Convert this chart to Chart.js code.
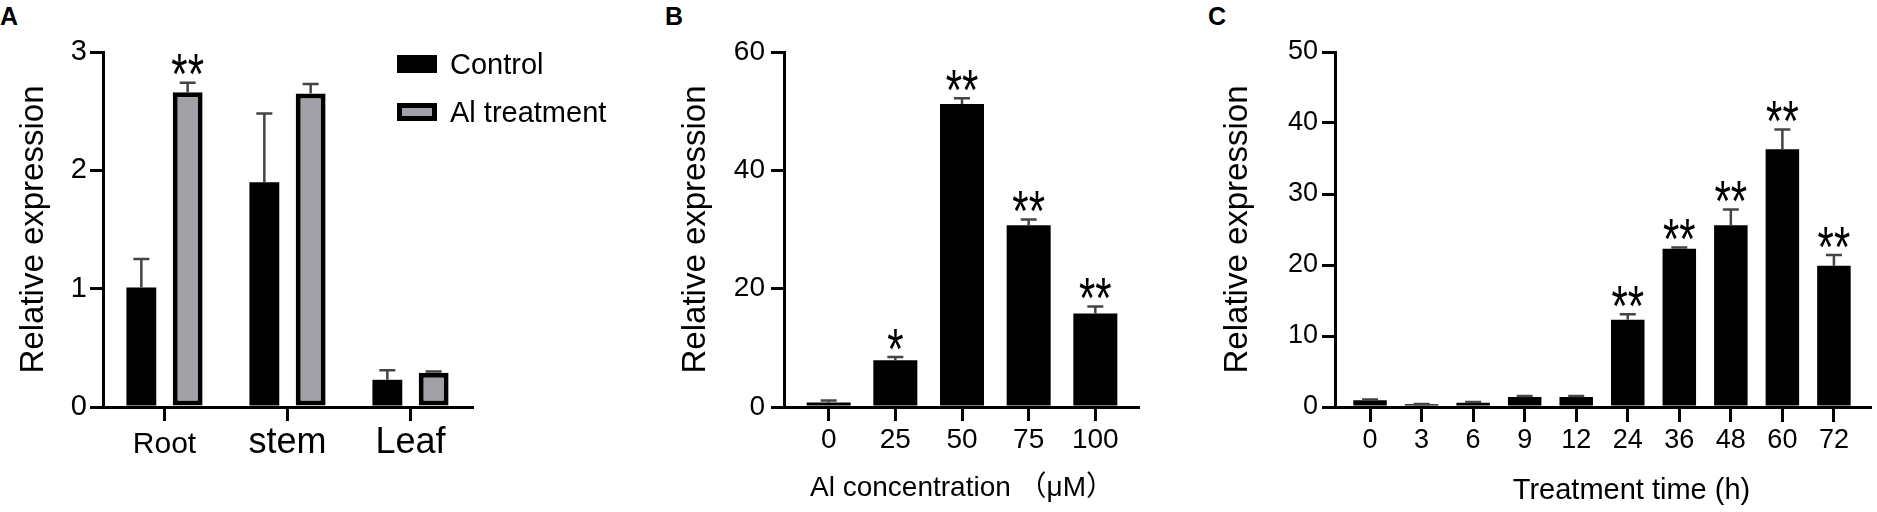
<!DOCTYPE html>
<html>
<head>
<meta charset="utf-8">
<script src="https://cdn.jsdelivr.net/npm/chart.js@4.4.0/dist/chart.umd.min.js"></script>
<style>
  html, body { margin: 0; padding: 0; background: #fff; }
  body { width: 1877px; height: 512px; position: relative; overflow: hidden; font-family: 'Liberation Sans', Arial, sans-serif; color: #000; }
  .panel { position: absolute; top: 0; height: 512px; }
  .panel canvas { display: block; }
  .panelLetter { position: absolute; top: 4px; font-weight: bold; font-size: 25px; line-height: 1; }
  .chartLegend { position: absolute; left: 397px; top: 55px; }
  .chartLegendItem { display: flex; align-items: center; height: 18px; margin-bottom: 30px; }
  .chartLegendColor { width: 40px; height: 18px; box-sizing: border-box; margin-right: 13px; }
  .chartLegendLabel { font-size: 29px; line-height: 18px; white-space: nowrap; }
</style>
</head>
<body>
<div class="panelLetter" style="left:0px">A</div>
<div class="panelLetter" style="left:665px">B</div>
<div class="panelLetter" style="left:1208px">C</div>

<div class="panel" style="left:0px"><canvas id="chartA" width="480" height="512"></canvas></div>
<div class="panel" style="left:620px"><canvas id="chartB" width="520" height="512"></canvas></div>
<div class="panel" style="left:1140px"><canvas id="chartC" width="737" height="512"></canvas></div>

<div class="chartLegend">
  <div class="chartLegendItem">
    <div class="chartLegendColor" style="background:#000"></div>
    <div class="chartLegendLabel">Control</div>
  </div>
  <div class="chartLegendItem">
    <div class="chartLegendColor" style="background:#a0a0a6; border:5px solid #000"></div>
    <div class="chartLegendLabel">Al treatment</div>
  </div>
</div>

<script>
const FONT = "'Liberation Sans', Arial, 'Noto Sans CJK SC', sans-serif";

// A - tissues
const tissues = ['Root', 'stem', 'Leaf'];
const controlA = [1.01, 1.90, 0.23];
const controlErrA = [0.24, 0.58, 0.08];
const alA = [2.66, 2.65, 0.29];
const alErrA = [0.08, 0.08, 0.01];
const starsControlA = ['', '', ''];
const starsAlA = ['**', '', ''];

// B - Al concentration
const concLabels = ['0', '25', '50', '75', '100'];
const valuesB = [0.75, 7.9, 51.2, 30.7, 15.8];
const errB = [0.35, 0.55, 1.0, 1.0, 1.2];
const starsB = ['', '*', '**', '**', '**'];

// C - treatment time
const timeLabels = ['0', '3', '6', '9', '12', '24', '36', '48', '60', '72'];
const valuesC = [0.95, 0.38, 0.6, 1.4, 1.4, 12.3, 22.3, 25.6, 36.3, 19.9];
const errC = [0.1, 0.05, 0.1, 0.15, 0.15, 0.75, 0.15, 2.2, 2.8, 1.5];
const starsC = ['', '', '', '', '', '**', '**', '**', '**', '**'];

Chart.defaults.font.family = FONT;
Chart.defaults.color = '#000';

// error bars (upper half only) + significance stars
const errorBars = {
  id: 'errorBars',
  afterDatasetsDraw(chart) {
    const ctx = chart.ctx;
    const y = chart.scales.y;
    chart.data.datasets.forEach((ds, di) => {
      if (!ds.errors) return;
      const meta = chart.getDatasetMeta(di);
      meta.data.forEach((bar, i) => {
        const v = meta.controller.getParsed(i).y;
        const top = y.getPixelForValue(v + ds.errors[i]);
        const base = y.getPixelForValue(v);
        ctx.save();
        ctx.strokeStyle = '#444';
        ctx.lineWidth = 2.5;
        ctx.beginPath();
        ctx.moveTo(bar.x, base);
        ctx.lineTo(bar.x, top);
        ctx.moveTo(bar.x - 8, top);
        ctx.lineTo(bar.x + 8, top);
        ctx.stroke();
        ctx.restore();

        const s = ds.stars ? ds.stars[i] : '';
        if (!s) return;
        ctx.save();
        ctx.font = '42px ' + FONT;
        ctx.fillStyle = '#000';
        ctx.textAlign = 'center';
        ctx.textBaseline = 'alphabetic';
        const m = ctx.measureText(s);
        const sy = 1.35;
        const baseY = top - 6 - m.actualBoundingBoxDescent * sy;
        ctx.translate(bar.x, baseY);
        ctx.scale(1, sy);
        ctx.fillText(s, 0, 0);
        ctx.restore();
      });
    });
  }
};

function yAxis(max, step, tickSize, labelPad, width, titlePad) {
  return {
    min: 0,
    max: max,
    ticks: { stepSize: step, font: { size: tickSize }, padding: labelPad },
    grid: { drawOnChartArea: false, drawTicks: true, tickLength: 13, tickWidth: 3, lineWidth: 3, color: '#000' },
    border: { display: true, width: 3, color: '#000' },
    title: { display: true, text: 'Relative expression', font: { size: 33 }, padding: { top: titlePad, bottom: 0 } },
    afterFit(scale) { scale.width = width; }
  };
}

function xLinear(labels, lo, hi, tickSize, tickLen, pad, title, titleSize, titlePadBottom) {
  return {
    type: 'linear',
    min: lo,
    max: hi,
    offset: false,
    afterBuildTicks(scale) { scale.ticks = labels.map((_, i) => ({ value: i })); },
    ticks: {
      font: { size: tickSize },
      padding: pad,
      maxRotation: 0,
      autoSkip: false,
      callback: (value) => labels[value]
    },
    grid: { offset: false, drawOnChartArea: false, drawTicks: true, tickLength: tickLen, tickWidth: 3, lineWidth: 3, color: '#000' },
    border: { display: true, width: 3, color: '#000' },
    title: { display: true, text: title, font: { size: titleSize }, padding: { top: 0, bottom: titlePadBottom } },
    afterFit(scale) { scale.height = 105; }
  };
}

const common = {
  responsive: false,
  animation: false,
  events: [],
  plugins: { legend: { display: false }, tooltip: { enabled: false } }
};

// Panel A
new Chart(document.getElementById('chartA'), {
  type: 'bar',
  data: {
    labels: tissues,
    datasets: [
      {
        label: 'Control',
        data: controlA,
        errors: controlErrA,
        stars: starsControlA,
        backgroundColor: '#000',
        borderWidth: 0,
        categoryPercentage: 0.753,
        barPercentage: 0.645
      },
      {
        label: 'Al treatment',
        data: alA,
        errors: alErrA,
        stars: starsAlA,
        backgroundColor: '#a0a0a6',
        borderColor: '#000',
        borderWidth: 5,
        borderSkipped: false,
        categoryPercentage: 0.753,
        barPercentage: 0.645
      }
    ]
  },
  options: {
    ...common,
    layout: { padding: { top: 52, right: 8, bottom: 0, left: 0 } },
    scales: {
      x: {
        type: 'category',
        offset: true,
        grid: { offset: false, drawOnChartArea: false, drawTicks: true, tickLength: 14, tickWidth: 3, lineWidth: 3, color: '#000' },
        border: { display: true, width: 3, color: '#000' },
        ticks: {
          padding: 0,
          maxRotation: 0,
          autoSkip: false,
          font: (c) => (c.index === 0 ? { size: 30, lineHeight: 1.58 } : { size: 36, lineHeight: 1.2 })
        },
        afterFit(scale) { scale.height = 105; }
      },
      y: yAxis(3, 1, 29, 3, 103, 14)
    }
  },
  plugins: [errorBars]
});

// Panel B
new Chart(document.getElementById('chartB'), {
  type: 'bar',
  data: {
    datasets: [{
      label: 'Relative expression',
      data: valuesB.map((v, i) => ({ x: i, y: v })),
      errors: errB,
      stars: starsB,
      backgroundColor: '#000',
      borderWidth: 0,
      categoryPercentage: 1,
      barPercentage: 0.66
    }]
  },
  options: {
    ...common,
    layout: { padding: { top: 52, right: 0, bottom: 0, left: 0 } },
    scales: {
      x: xLinear(concLabels, -0.67, 4.67, 28, 14, 2, 'Al concentration \uFF08\u03BCM\uFF09', 28, 7),
      y: yAxis(60, 20, 28, 6, 164, 56)
    }
  },
  plugins: [errorBars]
});

// Panel C
new Chart(document.getElementById('chartC'), {
  type: 'bar',
  data: {
    datasets: [{
      label: 'Relative expression',
      data: valuesC.map((v, i) => ({ x: i, y: v })),
      errors: errC,
      stars: starsC,
      backgroundColor: '#000',
      borderWidth: 0,
      categoryPercentage: 1,
      barPercentage: 0.65
    }]
  },
  options: {
    ...common,
    layout: { padding: { top: 52, right: 7, bottom: 0, left: 0 } },
    scales: {
      x: xLinear(timeLabels, -0.68, 9.7, 27, 15, 2, '\u2003\u2003Treatment time (h)', 29, 4),
      y: yAxis(50, 10, 27, 4, 195, 78)
    }
  },
  plugins: [errorBars]
});
</script>
</body>
</html>
